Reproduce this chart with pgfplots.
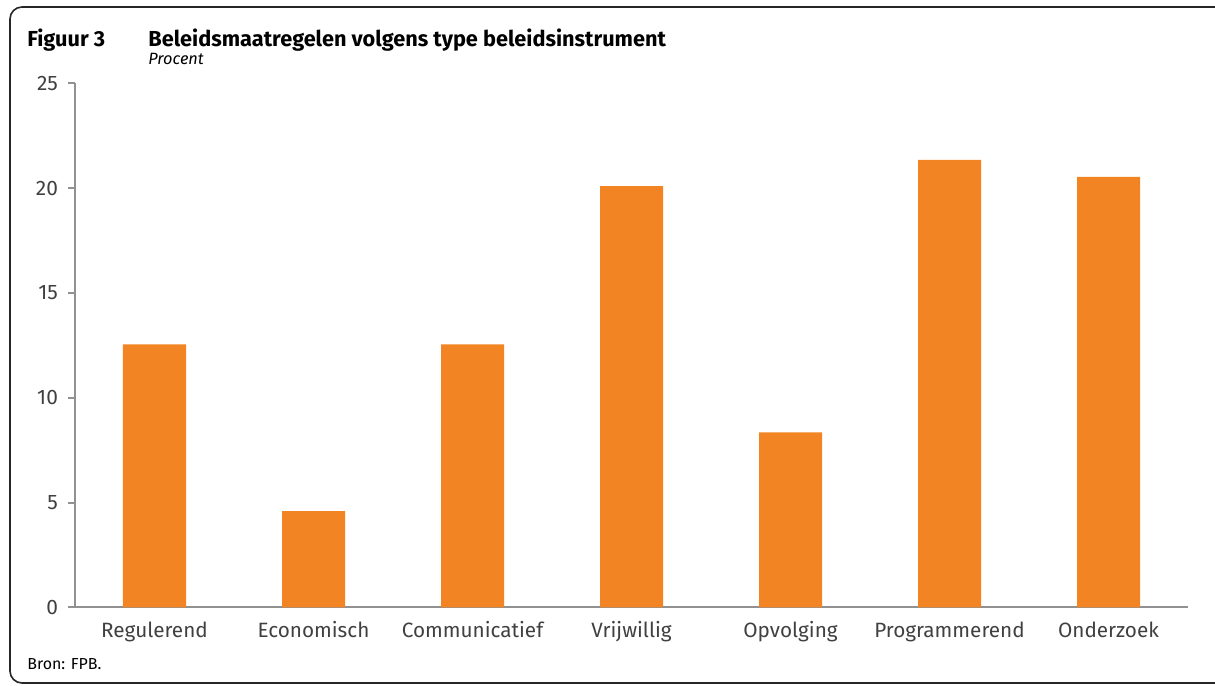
\documentclass[border=0pt]{standalone}
\usepackage{pgfplots}
\pgfplotsset{compat=1.18}
\usepackage{fontspec}
\setmainfont{Fira Sans}
\definecolor{barorange}{RGB}{242,132,35}
\definecolor{axisgray}{RGB}{145,145,145}
\definecolor{txtgray}{RGB}{64,64,64}
\begin{document}
\begin{tikzpicture}
\useasboundingbox (0,0) rectangle (607.5bp,343bp);
\draw[line width=0.8bp, rounded corners=6bp, color=black!85] (5bp,339.5bp) rectangle (620bp,1.5bp);
\node[anchor=base west, inner sep=0pt, font=\fontsize{10.9}{12}\selectfont\bfseries] at (13.5bp,319.5bp) {Figuur 3};
\node[anchor=base west, inner sep=0pt, font=\fontsize{10.9}{12}\selectfont\bfseries] at (74bp,319.5bp) {Beleidsmaatregelen volgens type beleidsinstrument};
\node[anchor=base west, inner sep=0pt, font=\fontsize{8.2}{10}\selectfont\itshape] at (74bp,310.5bp) {Procent};
\node[anchor=base west, inner sep=0pt, font=\fontsize{8}{10}\selectfont] at (13.5bp,8.5bp) {Bron: FPB.};
\begin{axis}[
  at={(37.5bp,39.25bp)}, anchor=south west,
  width=556.5bp, height=262bp, scale only axis,
  xmin=-0.5, xmax=6.5, ymin=0, ymax=25,
  axis lines=left,
  axis line style={-, draw=axisgray, line width=1bp},
  every tick/.style={draw=axisgray, line width=1bp},
  tick align=outside,
  major tick length=3.5bp,
  minor tick length=3bp,
  ytick={0,5,10,15,20,25},
  xtick={0,1,2,3,4,5,6},
  xticklabels={Regulerend,Economisch,Communicatief,Vrijwillig,Opvolging,Programmerend,Onderzoek},
  xtick style={draw=none},
  minor xtick={-0.5,0.5,1.5,2.5,3.5,4.5,5.5,6.5},
  y tick label style={font=\fontsize{10.5}{12}\selectfont, color=txtgray, xshift=-1.5bp},
  x tick label style={font=\fontsize{10.4}{12}\selectfont, color=txtgray},
  /pgf/number format/assume math mode=true,
  ybar, bar width=31.5bp,
]
\addplot[fill=barorange, draw=none] coordinates {(0,12.55) (1,4.6) (2,12.55) (3,20.1) (4,8.35) (5,21.35) (6,20.55)};
\end{axis}
\end{tikzpicture}
\end{document}
